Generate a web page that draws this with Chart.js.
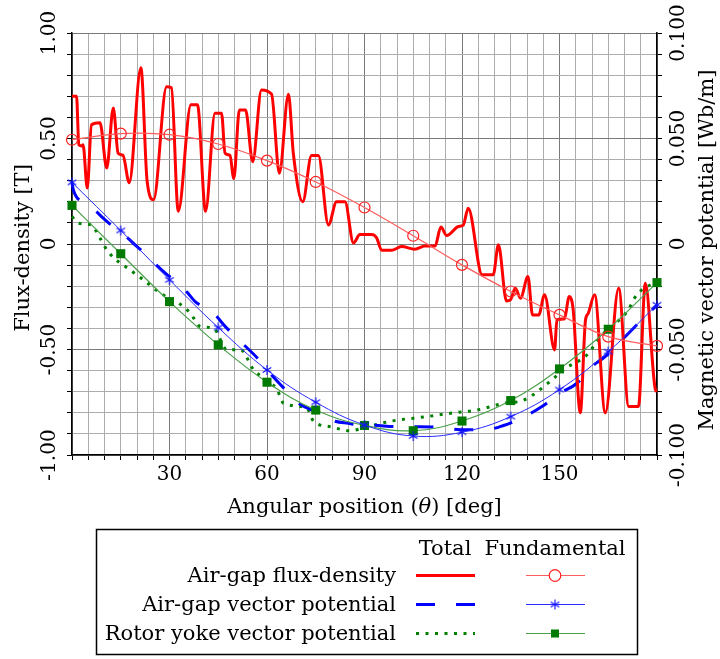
<!DOCTYPE html>
<html>
<head>
<meta charset="utf-8">
<script src="https://cdn.jsdelivr.net/npm/chart.js@4.4.1/dist/chart.umd.min.js"></script>
<style>
  html, body { margin: 0; padding: 0; background: #fff; }
  canvas { display: block; }
</style>
</head>
<body>
<canvas id="flux-chart" width="720" height="659"></canvas>
<script>
const serif = 'DejaVu Serif';

// fundamental components, sampled every 15 deg
const fundAngle = [0, 15, 30, 45, 60, 75, 90, 105, 120, 135, 150, 165, 180];
const fluxFund = [0.494, 0.523, 0.518, 0.474, 0.395, 0.294, 0.173, 0.039, -0.099, -0.225, -0.336, -0.439, -0.483];
const gapPotFund = [0.0292, 0.0064, -0.017, -0.0396, -0.0597, -0.075, -0.0858, -0.091, -0.0892, -0.0818, -0.069, -0.051, -0.0288];
const yokePotFund = [0.0183, -0.0046, -0.0273, -0.0478, -0.0655, -0.0787, -0.086, -0.0885, -0.0839, -0.0742, -0.0592, -0.0404, -0.0183];

// total air-gap flux density [T]
const fluxAngle = [0, 1.4, 2.1, 3.0, 3.4, 4.7, 6.0, 8.6, 10.7, 12.7, 14.2, 15.7, 17.6, 21.2, 23.1, 25.1,
  29.1, 30.6, 32.7, 36.6, 38.6, 41.1, 44.0, 46.0, 47.1, 48.6, 49.8, 51.5, 53.4, 55.6, 58.3, 61.4,
  63.8, 66.6, 68.1, 71.0, 73.7, 75.8, 78.9, 81.4, 84.0, 86.6, 88.6, 92.2, 93.7, 95.3, 98.3, 101.4,
  105.5, 108.6, 111.7, 113.5, 115.3, 118.9, 120.4, 121.9, 126.2, 129.6, 131.2, 133.7, 134.9, 136.4,
  138.0, 140.3, 141.7, 143.6, 145.4, 148.5, 149.2, 151.5, 153.0, 154.2, 156.4, 158.0, 158.8, 160.8,
  164.1, 168.2, 171.3, 174.3, 176.4, 179.5, 180];
const fluxTotal = [0.70, 0.70, 0.47, 0.465, 0.47, 0.265, 0.565, 0.575, 0.36, 0.645, 0.43, 0.42, 0.29, 0.835, 0.30, 0.21,
  0.745, 0.74, 0.155, 0.66, 0.66, 0.155, 0.62, 0.62, 0.43, 0.42, 0.31, 0.635, 0.635, 0.39, 0.73, 0.71,
  0.335, 0.71, 0.43, 0.20, 0.42, 0.42, 0.09, 0.20, 0.20, 0.005, 0.045, 0.045, 0.03, -0.03, -0.03, -0.012,
  -0.025, -0.01, -0.01, 0.08, 0.04, 0.083, 0.09, 0.17, -0.146, -0.146, -0.004, -0.27, -0.265, -0.21,
  -0.257, -0.154, -0.336, -0.336, -0.241, -0.502, -0.36, -0.355, -0.249, -0.31, -0.80, -0.36, -0.33, -0.241,
  -0.80, -0.21, -0.77, -0.77, -0.186, -0.69, -0.70];

// total air-gap vector potential [Wb/m]
const gapPotAngle = [0, 0.4, 4, 7, 9.6, 14.3, 17, 19.4, 24, 26, 28.7, 33.3, 35.5, 37.9, 43, 47.7, 51.8, 57, 60.5,
  65.6, 69.7, 75.9, 81, 85, 88.7, 90.8, 101, 107, 113.8, 119.5, 127.2, 132.8, 139, 144.6, 150.2, 155.4,
  160, 163.6, 169.2, 173.8, 177.9, 180];
const gapPotTotal = [0.029, 0.0257, 0.0194, 0.016, 0.0123, 0.006, 0.003, -0.0004, -0.0067, -0.010, -0.0138, -0.0194,
  -0.023, -0.0273, -0.032, -0.040, -0.0462, -0.054, -0.0605, -0.069, -0.0755, -0.080, -0.084, -0.085, -0.0858,
  -0.0858, -0.0866, -0.0866, -0.087, -0.088, -0.088, -0.086, -0.082, -0.077, -0.0707, -0.066, -0.058, -0.054,
  -0.0455, -0.0383, -0.032, -0.029];

// total rotor yoke vector potential [Wb/m]
const yokePotAngle = [0, 1.9, 6, 8.6, 11.2, 18.5, 22, 27.2, 32.8, 36.4, 39.5, 43.6, 47.7, 51.8, 55.9, 59, 63.1, 65.1,
  72.3, 74.3, 79.5, 85.6, 90, 98, 109.2, 117.4, 124.6, 132.8, 139, 147.7, 151.8, 158.5, 162.6, 166.7, 170.8,
  173.8, 179, 180];
const yokePotTotal = [0.013, 0.0099, 0.009, 0.0028, -0.0038, -0.013, -0.017, -0.0233, -0.028, -0.0328, -0.0391, -0.040,
  -0.0502, -0.050, -0.0597, -0.0636, -0.069, -0.0755, -0.0778, -0.084, -0.0866, -0.0885, -0.087, -0.084, -0.0818,
  -0.080, -0.0787, -0.0755, -0.074, -0.0644, -0.059, -0.0525, -0.044, -0.0383, -0.032, -0.024, -0.0186, -0.018];

const angleTickLabels = [30, 60, 90, 120, 150];
const fluxTickValues = [1, 0.5, 0, -0.5, -1];
const fluxTickLabels = ['1.00', '0.50', '0', '-0.50', '-1.00'];
const potTickValues = [0.1, 0.05, 0, -0.05, -0.1];
const potTickLabels = ['0.100', '0.050', '0', '-0.050', '-0.100'];
const seriesNames = ['Air-gap flux-density', 'Air-gap vector potential', 'Rotor yoke vector potential'];
const columnNames = ['Total', 'Fundamental'];

const xy = (xs, ys) => xs.map((x, i) => ({ x, y: ys[i] }));

// six-armed asterisk used as the marker of the air-gap potential fundamental
const asterisk = document.createElement('canvas');
asterisk.width = 12; asterisk.height = 12;
(() => {
  const c = asterisk.getContext('2d');
  c.strokeStyle = '#1010ff';
  c.lineWidth = 1.1;
  c.beginPath();
  for (let k = 0; k < 3; k++) {
    const a = Math.PI / 2 + k * Math.PI / 3;
    c.moveTo(6 + 5 * Math.cos(a), 6 + 5 * Math.sin(a));
    c.lineTo(6 - 5 * Math.cos(a), 6 - 5 * Math.sin(a));
  }
  c.stroke();
})();

const totalStyles = [
  { color: '#ff0000', dash: [] },
  { color: '#0000ff', dash: [19, 21] },
  { color: '#008000', dash: [3, 6.5] }
];
const fundStyles = [
  { line: '#ff5c5c', marker: '#ff2020' },
  { line: '#2a2aff', marker: '#1010ff' },
  { line: '#4aa04a', marker: '#007a00' }
];

const majorGrid = '#7a7a7a';
const minorGrid = '#adadad';

const decor = {
  id: 'decor',
  afterDraw(chart) {
    const ctx = chart.ctx;
    const { y, y2 } = chart.scales;
    ctx.save();
    ctx.fillStyle = '#000';

    // rotated tick labels on both vertical axes
    ctx.font = `20px "${serif}"`;
    ctx.textAlign = 'center';
    ctx.textBaseline = 'middle';
    fluxTickValues.forEach((v, i) => {
      ctx.save();
      ctx.translate(50, y.getPixelForValue(v));
      ctx.rotate(-Math.PI / 2);
      ctx.fillText(fluxTickLabels[i], 0, 0);
      ctx.restore();
    });
    potTickValues.forEach((v, i) => {
      ctx.save();
      ctx.translate(679, y2.getPixelForValue(v));
      ctx.rotate(-Math.PI / 2);
      ctx.fillText(potTickLabels[i], 0, 0);
      ctx.restore();
    });

    // axis titles
    ctx.font = `21px "${serif}"`;
    ctx.save();
    ctx.translate(24, 248);
    ctx.rotate(-Math.PI / 2);
    ctx.fillText('Flux-density [T]', 0, 0);
    ctx.restore();
    ctx.save();
    ctx.translate(708, 250);
    ctx.rotate(-Math.PI / 2);
    ctx.fillText('Magnetic vector potential [Wb/m]', 0, 0);
    ctx.restore();

    const parts = [['Angular position (', false], ['\u03b8', true], [') [deg]', false]];
    const fontFor = it => `${it ? 'italic ' : ''}21px "${serif}"`;
    let total = 0;
    parts.forEach(([t, it]) => { ctx.font = fontFor(it); total += ctx.measureText(t).width; });
    let px = (chart.chartArea.left + chart.chartArea.right) / 2 - total / 2;
    ctx.textAlign = 'left';
    ctx.textBaseline = 'alphabetic';
    parts.forEach(([t, it]) => {
      ctx.font = fontFor(it);
      ctx.fillText(t, px, 513);
      px += ctx.measureText(t).width;
    });

    // legend box
    ctx.lineWidth = 1.5;
    ctx.strokeStyle = '#000';
    ctx.strokeRect(96.5, 529.5, 541, 125);
    ctx.font = `21px "${serif}"`;
    ctx.textAlign = 'center';
    ctx.fillText(columnNames[0], 445, 555);
    ctx.fillText(columnNames[1], 555, 555);
    const rowY = [575.5, 604.5, 633.5];
    seriesNames.forEach((name, i) => {
      const ry = rowY[i];
      ctx.fillStyle = '#000';
      ctx.textAlign = 'right';
      ctx.fillText(name, 396, ry + 6);

      ctx.strokeStyle = totalStyles[i].color;
      ctx.lineWidth = 3;
      ctx.setLineDash(totalStyles[i].dash);
      ctx.beginPath();
      ctx.moveTo(416, ry);
      ctx.lineTo(475, ry);
      ctx.stroke();
      ctx.setLineDash([]);

      ctx.strokeStyle = fundStyles[i].line;
      ctx.lineWidth = 1.2;
      ctx.beginPath();
      ctx.moveTo(526, ry);
      ctx.lineTo(585, ry);
      ctx.stroke();
      ctx.strokeStyle = fundStyles[i].marker;
      ctx.fillStyle = fundStyles[i].marker;
      if (i === 0) {
        ctx.fillStyle = '#fff';
        ctx.beginPath();
        ctx.arc(555, ry, 5.8, 0, Math.PI * 2);
        ctx.fill();
        ctx.stroke();
      } else if (i === 1) {
        ctx.drawImage(asterisk, 549, ry - 6);
      } else {
        ctx.fillRect(551, ry - 4, 8, 8);
      }
    });
    ctx.restore();
  }
};

new Chart(document.getElementById('flux-chart'), {
  type: 'line',
  data: {
    datasets: [
      {
        data: xy(fundAngle, fluxFund), yAxisID: 'y', order: 0,
        borderColor: fundStyles[0].line, borderWidth: 1.2, tension: 0.4,
        pointStyle: 'circle', pointRadius: 5.5, pointBorderWidth: 1.2,
        pointBorderColor: fundStyles[0].marker, pointBackgroundColor: 'rgba(0,0,0,0)'
      },
      {
        data: xy(fundAngle, gapPotFund), yAxisID: 'y2', order: 0,
        borderColor: fundStyles[1].line, borderWidth: 1, tension: 0.4,
        pointStyle: asterisk, pointRadius: 6
      },
      {
        data: xy(fundAngle, yokePotFund), yAxisID: 'y2', order: 0,
        borderColor: fundStyles[2].line, borderWidth: 1.2, tension: 0.4,
        pointStyle: 'rect', pointRadius: 6.4, pointBorderWidth: 0,
        pointBackgroundColor: fundStyles[2].marker
      },
      {
        data: xy(fluxAngle, fluxTotal), yAxisID: 'y', order: 1,
        borderColor: totalStyles[0].color, borderWidth: 3,
        cubicInterpolationMode: 'monotone', pointRadius: 0
      },
      {
        data: xy(gapPotAngle, gapPotTotal), yAxisID: 'y2', order: 1,
        borderColor: totalStyles[1].color, borderWidth: 3, borderDash: totalStyles[1].dash,
        cubicInterpolationMode: 'monotone', pointRadius: 0
      },
      {
        data: xy(yokePotAngle, yokePotTotal), yAxisID: 'y2', order: 1,
        borderColor: totalStyles[2].color, borderWidth: 3, borderDash: totalStyles[2].dash,
        cubicInterpolationMode: 'monotone', pointRadius: 0
      }
    ]
  },
  options: {
    responsive: false,
    animation: false,
    clip: false,
    layout: { padding: { top: 33, left: 0, right: 0, bottom: 0 } },
    plugins: { legend: { display: false }, tooltip: { enabled: false } },
    scales: {
      x: {
        type: 'linear', min: 0, max: 180,
        border: { color: '#000', width: 1.5 },
        grid: {
          color: c => (c.tick && c.tick.value % 30 === 0 ? majorGrid : minorGrid),
          tickColor: '#000', tickLength: 5
        },
        ticks: {
          stepSize: 5, maxTicksLimit: 100, autoSkip: false, maxRotation: 0, padding: 3,
          color: '#000', font: { family: serif, size: 20 },
          callback: v => (angleTickLabels.includes(v) ? String(v) : '')
        },
        afterFit: s => { s.height = 204; }
      },
      y: {
        position: 'left', min: -1, max: 1,
        border: { color: '#000', width: 1.5 },
        grid: {
          color: c => (c.tick && Math.round(c.tick.value * 10) % 5 === 0 ? majorGrid : minorGrid),
          tickColor: '#000', tickLength: 5
        },
        ticks: { stepSize: 0.1, maxTicksLimit: 100, display: false },
        afterFit: s => { s.width = 72; }
      },
      y2: {
        position: 'right', min: -0.1, max: 0.1,
        border: { color: '#000', width: 1.5 },
        grid: { drawOnChartArea: false, tickColor: '#000', tickLength: 5 },
        ticks: { stepSize: 0.01, maxTicksLimit: 100, display: false },
        afterFit: s => { s.width = 63; }
      }
    }
  },
  plugins: [decor]
});
</script>
</body>
</html>
